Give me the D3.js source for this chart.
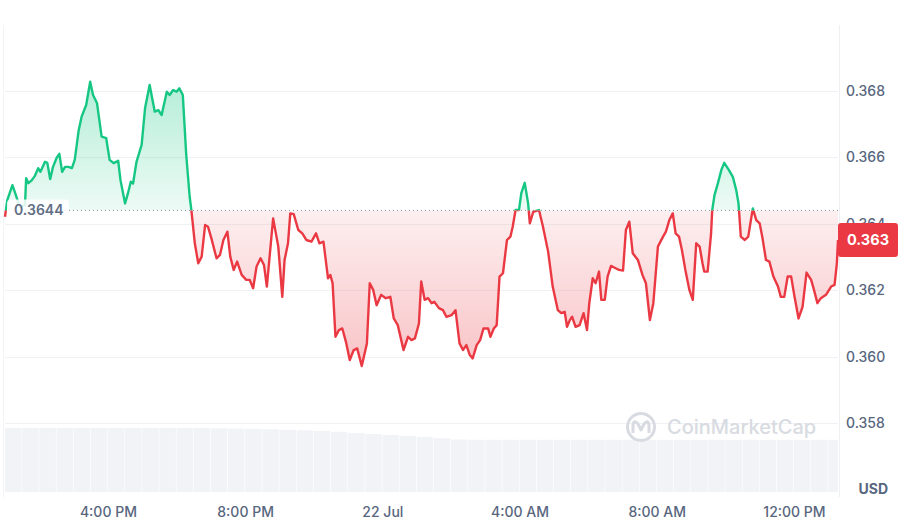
<!DOCTYPE html>
<meta charset="utf-8">
<style>
body { margin: 0; background: #fff; }
.axis text { font-family: Inter, "Noto Sans", sans-serif; font-size: 14px; font-weight: 500; fill: #58667e; }
</style>
<body>
<script src="https://d3js.org/d3.v7.min.js"></script>
<script>

// minutes after 21 Jul 13:00 and price (USD)
var minutes = [
  0,4,13,19,26,35,37,41,47,52,
  58,62,70,74,79,84,90,95,100,105,
  111,117,122,129,134,142,149,154,161,169,
  177,183,190,198,202,210,215,220,224,230,
  239,245,253,262,268,274,283,288,294,300,
  305,311,317,323,326,332,338,344,350,355,
  361,370,376,382,389,394,400,406,414,422,
  428,434,440,447,453,458,469,478,485,489,
  495,499,505,513,520,527,536,544,550,557,
  565,569,573,578,584,590,597,603,610,616,
  624,633,638,644,650,658,666,674,680,687,
  697,705,711,717,724,728,734,740,746,751,
  759,766,772,781,788,795,801,807,813,818,
  825,831,837,845,849,855,860,865,871,878,
  884,888,893,899,903,909,915,918,924,934,
  941,950,958,967,973,979,983,988,992,998,
  1005,1012,1018,1022,1028,1033,1039,1043,1049,1054,
  1060,1068,1074,1081,1086,1092,1098,1107,1115,1121,
  1128,1134,1142,1151,1156,1162,1168,1173,1179,1184,
  1190,1197,1203,1209,1215,1220,1223,1229,1235,1237,
  1241,1247,1253,1258,1266,1273,1279,1283,1287,1294,
  1300,1308,1314,1320,1325,1331,1337,1344,1352,1357,
  1363,1369,1375,1381,1388,1395,1402,1410,1415,1421,
  1427,1436,1445,1451,1455,1457
];
var prices = [
  0.36421,0.36471,0.36516,0.36486,0.36450,0.36456,0.36537,0.36522,0.36531,0.36543,
  0.36567,0.36556,0.36586,0.36583,0.36534,0.36571,0.36597,0.36610,0.36556,0.36571,
  0.36571,0.36567,0.36592,0.36682,0.36722,0.36757,0.36827,0.36787,0.36762,0.36662,
  0.36657,0.36592,0.36582,0.36589,0.36531,0.36461,0.36491,0.36526,0.36521,0.36586,
  0.36637,0.36748,0.36817,0.36737,0.36742,0.36727,0.36797,0.36787,0.36802,0.36797,
  0.36807,0.36787,0.36607,0.36481,0.36441,0.36341,0.36281,0.36301,0.36396,0.36391,
  0.36356,0.36296,0.36306,0.36351,0.36376,0.36301,0.36261,0.36286,0.36246,0.36231,
  0.36231,0.36206,0.36271,0.36296,0.36276,0.36211,0.36416,0.36331,0.36180,0.36291,
  0.36341,0.36431,0.36429,0.36381,0.36371,0.36351,0.36346,0.36371,0.36341,0.36346,
  0.36236,0.36246,0.36221,0.36060,0.36080,0.36085,0.36040,0.35990,0.36020,0.36025,
  0.35972,0.36040,0.36221,0.36201,0.36155,0.36186,0.36176,0.36180,0.36115,0.36095,
  0.36020,0.36060,0.36050,0.36055,0.36100,0.36226,0.36171,0.36176,0.36161,0.36165,
  0.36146,0.36140,0.36120,0.36125,0.36140,0.36040,0.36020,0.36035,0.36005,0.35995,
  0.36035,0.36050,0.36085,0.36085,0.36060,0.36085,0.36095,0.36241,0.36251,0.36351,
  0.36361,0.36391,0.36441,0.36441,0.36491,0.36523,0.36461,0.36401,0.36436,0.36441,
  0.36391,0.36316,0.36211,0.36140,0.36131,0.36135,0.36090,0.36110,0.36120,0.36090,
  0.36095,0.36131,0.36080,0.36161,0.36236,0.36221,0.36256,0.36171,0.36171,0.36241,
  0.36273,0.36266,0.36261,0.36259,0.36381,0.36406,0.36311,0.36291,0.36246,0.36221,
  0.36110,0.36161,0.36331,0.36361,0.36376,0.36411,0.36431,0.36371,0.36361,0.36321,
  0.36261,0.36201,0.36171,0.36341,0.36331,0.36281,0.36256,0.36256,0.36371,0.36441,
  0.36486,0.36522,0.36562,0.36583,0.36562,0.36541,0.36501,0.36461,0.36361,0.36351,
  0.36361,0.36446,0.36411,0.36401,0.36356,0.36291,0.36286,0.36241,0.36211,0.36180,
  0.36180,0.36241,0.36241,0.36180,0.36115,0.36150,0.36253,0.36231,0.36201,0.36161,
  0.36176,0.36186,0.36211,0.36216,0.36281,0.36351
];

// half-hourly volume (relative), from 13:00
var volume = [
  100,100,100,100,100,100,100,100,100,100,
  100,100,99.5,99,98.5,98,97,96.5,95.5,94,
  92,90.5,89,87.5,86,84,82,81.5,81.5,81.5,
  81.5,81.5,81.5,81.5,81.5,81.5,81.5,81.5,81.5,81.5,
  81.5,81.5,81.5,81.5,81.5,81.5,81.5,81.5,81.5
];

var baseline = 0.3644;
var baselineLabel = "0.3644";
var lastLabel = "0.363";
var priceTicks = [0.358, 0.360, 0.362, 0.364, 0.366, 0.368];
var timeTickHours = [3, 7, 11, 15, 19, 23];
var timeTickLabels = ["4:00 PM", "8:00 PM", "22 Jul", "4:00 AM", "8:00 AM", "12:00 PM"];

var green = "#16c784", red = "#ea3943";
var W = 901, H = 529;
var left = 5, right = 838;

var start = new Date(2024, 6, 21, 13, 0);
function addMin(m) { return new Date(start.getTime() + m * 60000); }

var data = minutes.map(function(m, i) { return {t: addMin(m), p: prices[i]}; });

var x = d3.scaleTime()
    .domain([start, addMin(d3.max(minutes))])
    .range([left, right]);

var y = d3.scaleLinear()
    .domain([0.358, 0.368])
    .range([423.2, 90.7]);

var yVol = d3.scaleLinear()
    .domain([0, 100])
    .range([492, 428]);

var svg = d3.select("body").append("svg")
    .attr("width", W)
    .attr("height", H)
    .style("font-family", "Inter, sans-serif");

var defs = svg.append("defs");
var by = y(baseline);

defs.append("clipPath").attr("id", "above")
  .append("rect").attr("x", 0).attr("y", 0).attr("width", W).attr("height", by);
defs.append("clipPath").attr("id", "below")
  .append("rect").attr("x", 0).attr("y", by).attr("width", W).attr("height", H - by);
defs.append("clipPath").attr("id", "plot")
  .append("rect").attr("x", left).attr("y", 0).attr("width", right - left).attr("height", H);

var gGreen = defs.append("linearGradient").attr("id", "gGreen")
    .attr("gradientUnits", "userSpaceOnUse")
    .attr("x1", 0).attr("x2", 0).attr("y1", y(0.3683)).attr("y2", by);
gGreen.append("stop").attr("offset", 0).attr("stop-color", green).attr("stop-opacity", 0.32);
gGreen.append("stop").attr("offset", 1).attr("stop-color", green).attr("stop-opacity", 0.08);

var gRed = defs.append("linearGradient").attr("id", "gRed")
    .attr("gradientUnits", "userSpaceOnUse")
    .attr("x1", 0).attr("x2", 0).attr("y1", by).attr("y2", y(0.3597));
gRed.append("stop").attr("offset", 0).attr("stop-color", red).attr("stop-opacity", 0.08);
gRed.append("stop").attr("offset", 1).attr("stop-color", red).attr("stop-opacity", 0.3);

// frame lines
svg.append("line").attr("x1", 3.5).attr("x2", 3.5).attr("y1", 25).attr("y2", 497)
    .attr("stroke", "#f1f3f6");
svg.append("line").attr("x1", right + 1.5).attr("x2", right + 1.5).attr("y1", 25).attr("y2", 497)
    .attr("stroke", "#eef0f3");

// gridlines
svg.append("g").selectAll("line")
  .data(priceTicks)
  .enter().append("line")
    .attr("x1", left).attr("x2", right)
    .attr("y1", function(d) { return Math.round(y(d)) + 0.5; })
    .attr("y2", function(d) { return Math.round(y(d)) + 0.5; })
    .attr("stroke", "#eff2f5");

// volume bars
svg.append("g").attr("clip-path", "url(#plot)")
  .selectAll("rect")
  .data(volume)
  .enter().append("rect")
    .attr("x", function(d, i) { return x(addMin(i * 30)); })
    .attr("width", function(d, i) { return x(addMin((i + 1) * 30)) - x(addMin(i * 30)) - 0.6; })
    .attr("y", function(d) { return yVol(d); })
    .attr("height", function(d) { return yVol(0) - yVol(d); })
    .attr("fill", "#f1f3f6");

// watermark
var wm = svg.append("g").attr("transform", "translate(641,427)");
wm.append("circle").attr("r", 13.5).attr("fill", "none").attr("stroke", "#d8dbe1").attr("stroke-width", 3);
wm.append("path")
    .attr("d", "M-8,6 L-8,-2 Q-7,-8 -3,-3 L0,3 L3,-3 Q7,-8 8,-2 L8,6")
    .attr("fill", "none").attr("stroke", "#d8dbe1").attr("stroke-width", 3).attr("stroke-linejoin", "round");
svg.append("text")
    .attr("x", 667).attr("y", 434)
    .attr("font-size", 20).attr("font-weight", 500)
    .attr("fill", "#d8dbe1")
    .text("CoinMarketCap");

// areas
var area = d3.area()
    .x(function(d) { return x(d.t); })
    .y0(by)
    .y1(function(d) { return y(d.p); });
var line = d3.line()
    .x(function(d) { return x(d.t); })
    .y(function(d) { return y(d.p); });

svg.append("path").datum(data).attr("clip-path", "url(#above)")
    .attr("d", area).attr("fill", "url(#gGreen)");
svg.append("path").datum(data).attr("clip-path", "url(#below)")
    .attr("d", area).attr("fill", "url(#gRed)");

// baseline
svg.append("line")
    .attr("x1", left).attr("x2", right)
    .attr("y1", by).attr("y2", by)
    .attr("stroke", "#8a94a6").attr("stroke-width", 1)
    .attr("stroke-dasharray", "1,3");

svg.append("path").datum(data).attr("clip-path", "url(#above)")
    .attr("d", line).attr("fill", "none").attr("stroke", green)
    .attr("stroke-width", 2.4).attr("stroke-linejoin", "round");
svg.append("path").datum(data).attr("clip-path", "url(#below)")
    .attr("d", line).attr("fill", "none").attr("stroke", red)
    .attr("stroke-width", 2.4).attr("stroke-linejoin", "round");

// baseline label
svg.append("rect")
    .attr("x", 7).attr("y", by - 11).attr("width", 62).attr("height", 22)
    .attr("rx", 4).attr("fill", "#fff").attr("fill-opacity", 0.85);
svg.append("text")
    .attr("x", 14).attr("y", by).attr("dy", "0.35em")
    .attr("font-size", 14).attr("font-weight", 600).attr("fill", "#616e85")
    .text(baselineLabel);

// y axis
var yAxis = svg.append("g").attr("class", "axis")
    .attr("transform", "translate(" + (right + 8) + ",0)")
    .call(d3.axisRight(y).tickValues(priceTicks).tickSize(0).tickPadding(0)
          .tickFormat(d3.format(".3f")));
yAxis.select(".domain").remove();

svg.append("text")
    .attr("x", 888).attr("y", 489).attr("dy", "0.35em")
    .attr("text-anchor", "end")
    .attr("font-size", 14).attr("font-weight", 700).attr("fill", "#58667e")
    .text("USD");

// x axis
var xAxis = svg.append("g").attr("class", "axis")
    .attr("transform", "translate(0,507)")
    .call(d3.axisBottom(x)
          .tickValues(timeTickHours.map(function(h) { return addMin(h * 60); }))
          .tickSize(0).tickPadding(0)
          .tickFormat(function(d, i) { return timeTickLabels[i]; }));
xAxis.select(".domain").remove();

// last price tag
var last = data[data.length - 1];
svg.append("rect")
    .attr("x", right).attr("y", y(last.p) - 17)
    .attr("width", 60).attr("height", 34)
    .attr("rx", 3).attr("fill", red);
svg.append("text")
    .attr("x", right + 30).attr("y", y(last.p)).attr("dy", "0.35em")
    .attr("text-anchor", "middle")
    .attr("font-size", 14.5).attr("font-weight", 700).attr("fill", "#fff")
    .text(lastLabel);
</script>
</body>
